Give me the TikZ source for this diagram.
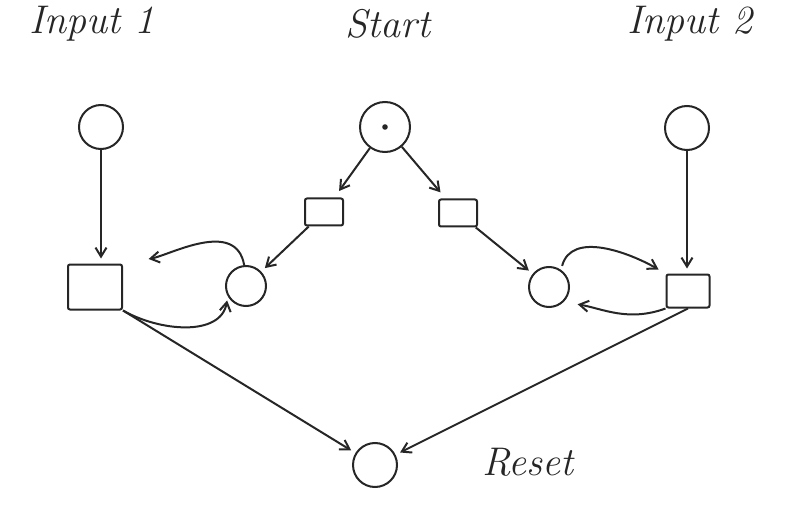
\documentclass[tikz,border=0pt]{standalone}
\usepackage{fontspec}
\usetikzlibrary{arrows.meta}
\begin{document}
\begin{tikzpicture}[x=1pt,y=-1pt,
  ink/.style={draw=black!85, line width=2pt},
  place/.style={ink, circle, minimum size=44pt, inner sep=0pt},
  trans/.style={ink, rectangle, rounded corners=2pt, inner sep=0pt},
  arr/.style={ink, -{Straight Barb[length=9pt,width=11pt]}, shorten >=5pt},
  lbl/.style={font=\fontsize{40}{42}\selectfont\itshape, text=black!85, inner sep=0pt}]
\useasboundingbox (0,0) rectangle (787,505);

% labels
\node[lbl] (l1) at (92,24) {Input 1};
\node[lbl] (ls) at (388,24) {Start};
\node[lbl] (l2) at (690,24) {Input 2};
\node[lbl] (lr) at (528,462) {Reset};

% places
\node[place] (in1) at (101,127) {};
\node[place, minimum size=50pt] (st) at (385,127) {};
\fill[black!85] (st.center) circle (2.8pt);
\node[place] (in2) at (687,128) {};
\node[place, minimum size=40pt] (p1) at (246,286) {};
\node[place, minimum size=40pt] (p2) at (549,287) {};
\node[place] (rs) at (375,465) {};

% transitions
\node[trans, minimum width=38pt, minimum height=27pt] (ta) at (324,212) {};
\node[trans, minimum width=38pt, minimum height=27pt] (tb) at (458,213) {};
\node[trans, minimum width=54pt, minimum height=45pt] (t1) at (95,287) {};
\node[trans, minimum width=43pt, minimum height=33pt] (t2) at (688,291) {};

% arcs
\draw[arr] (in1) -- (t1.north -| in1);
\draw[arr] (in2) -- (t2.north -| in2);
\draw[arr, shorten >=8pt] (st) -- (ta);
\draw[arr, shorten >=8pt] (st) -- (tb);
\draw[arr] (ta) -- (p1);
\draw[arr] (tb) -- (p2);

% self loops between the side transitions and the middle places
\draw[arr, shorten >=26pt] (p1.95) to[out=100, in=10] (t1.north east);
\draw[arr, shorten >=4pt] (t1.south east) to[out=-30, in=-100] (p1.210);
\draw[arr, shorten <=4pt, shorten >=8pt] (p2.55) to[out=75, in=150] (t2.north west);
\draw[arr, shorten >=14pt] (t2.south west) to[out=-160, in=-10] (p2.south east);

% reset arcs
\draw[arr] (t1.south east) -- (rs);
\draw[arr] (t2.south) -- (rs);
\end{tikzpicture}
\end{document}
